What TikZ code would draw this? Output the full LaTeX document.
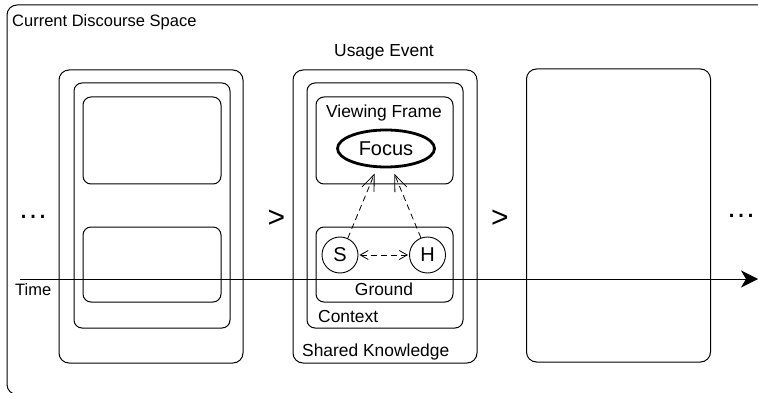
\documentclass[tikz,border=0pt]{standalone}
\usepackage{fontspec}
\setmainfont{Liberation Sans}
\usetikzlibrary{arrows.meta,shapes.geometric}

\tikzset{
  lbl/.style={inner sep=0pt, font=\fontsize{16.5}{18}\selectfont},
  evlbl/.style={inner sep=0pt, font=\fontsize{17.4}{19}\selectfont},
  panel/.style={draw, line width=1pt, rounded corners=10pt, inner sep=0pt},
  subpanel/.style={draw, line width=1pt, rounded corners=8pt, inner sep=0pt},
  party/.style={draw, circle, line width=0.9pt, minimum size=36pt, inner sep=0pt,
                font=\fontsize{20}{20}\selectfont},
  focusnode/.style={draw, ellipse, line width=2.8pt, minimum width=97pt, minimum height=37pt,
                inner sep=0pt, font=\fontsize{20}{20}\selectfont},
  relation/.style={line width=0.8pt, dash pattern=on 6pt off 4pt,
                -{Straight Barb[length=16pt,width=13pt,line width=0.8pt]}},
  exchange/.style={line width=0.8pt, dash pattern=on 6pt off 4pt,
                {Straight Barb[length=8pt,width=9pt,line width=0.8pt]}-{Straight Barb[length=8pt,width=9pt,line width=0.8pt]}},
  dots/.style={inner sep=0pt, font=\fontsize{30}{30}\selectfont},
  prec/.style={inner sep=0pt, font=\fontsize{30}{30}\selectfont},
}

\begin{document}
\begin{tikzpicture}[x=1pt, y=-1pt]
  \useasboundingbox (0,0) rectangle (758,393);

  % the current discourse space runs past the picture edges
  \begin{scope}
    \clip (0,0) rectangle (758,393);
    \draw[line width=1pt, rounded corners=10pt] (7,5) rectangle (820,394.5);
  \end{scope}
  \node[lbl, anchor=west] (cds) at (12,22) {Current Discourse Space};

  % previous usage event
  \node[panel, minimum width=184pt, minimum height=293pt] (prev) at (151,216.5) {};
  \node[subpanel, minimum width=156pt, minimum height=245pt] (prevctx) at (152,205.5) {};
  \node[subpanel, minimum width=138pt, minimum height=87pt] (prevvf) at (152,140.5) {};
  \node[subpanel, minimum width=138pt, minimum height=75pt] (prevgr) at (152,264.5) {};

  % current usage event
  \node[panel, minimum width=184pt, minimum height=293pt] (ue) at (385,216.5) {};
  \node[evlbl] (uelbl) at (384,52) {Usage Event};
  \node[subpanel, minimum width=156pt, minimum height=245pt] (ctx) at (385,205.5) {};
  \node[subpanel, minimum width=137pt, minimum height=87pt] (vf) at (384.5,140.5) {};
  \node[subpanel, minimum width=137pt, minimum height=75pt] (gr) at (384.5,264.5) {};
  \node[evlbl] (vflbl) at (384,113) {Viewing Frame};
  \node[evlbl] (grlbl) at (384,289) {Ground};
  \node[evlbl, anchor=west] (ctxlbl) at (318,317) {Context};
  \node[evlbl, anchor=west] (sklbl) at (302,352) {Shared Knowledge};

  \node[focusnode] (focus) at (386,148.5) {Focus};
  \node[party] (S) at (340,255) {S};
  \node[party] (H) at (427.5,255) {H};

  % next usage event
  \node[panel, minimum width=184pt, minimum height=293pt] (next) at (618.5,215.5) {};

  % ordering marks
  \node[dots] (dl) at (33,217) {…};
  \node[prec] (p1) at (276.5,218.5) {>};
  \node[prec] (p2) at (500,218.5) {>};
  \node[dots] (dr) at (741,216) {…};

  % time axis
  \coordinate (t0) at (20,279);
  \coordinate (t1) at (758,279);
  \draw[line width=1pt, -{Stealth[length=17pt,width=17pt,inset=5pt]}] (t0) -- (t1);
  \node[lbl, anchor=west] (time) at (15,290) {Time};

  % relations of the ground to the focus
  \draw[relation, shorten >=6pt] (S.65) -- (focus.245);
  \draw[relation, shorten >=6pt] (H.111) -- (focus.287);
  \draw[exchange, shorten <=1pt, shorten >=1pt] (S) -- (H);
\end{tikzpicture}
\end{document}
